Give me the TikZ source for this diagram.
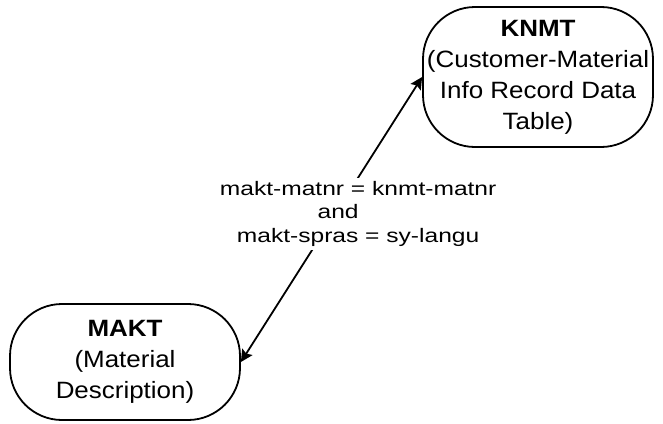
\documentclass[tikz,border=0pt]{standalone}
\usepackage{fontspec}
\setmainfont{Liberation Sans}
\newfontfamily\tablefont[FakeStretch=1.1]{Liberation Sans}
\newfontfamily\joinfont[FakeStretch=1.26]{Liberation Sans}
\usetikzlibrary{arrows.meta}
\begin{document}
\begin{tikzpicture}[x=0.5pt,y=-0.5pt,
			table/.style={draw,line width=0.9pt,rounded corners=26pt,align=center,
				inner sep=0pt,minimum width=115pt,
				font=\tablefont\fontsize{11.8pt}{15.5pt}\selectfont},
			link/.style={<->,>={Stealth[length=6pt,width=6pt,inset=1pt]},line width=0.9pt},
			joinlabel/.style={fill=white,align=center,inner sep=2pt,pos=0.52,xshift=11.5pt,
				font=\joinfont\fontsize{9.75pt}{11.6pt}\selectfont},]
\useasboundingbox (0,0) rectangle (663,423);
\node[table,minimum height=70pt] (knmt) at (538,77)
	{{\bfseries KNMT}\\(Customer-Material\\Info Record Data\\Table)};
\node[table,minimum height=58pt] (makt) at (125,362)
	{{\bfseries MAKT}\\(Material\\Description)};
\draw[link] (makt.east) -- node[joinlabel] {makt-matnr = knmt-matnr\\and\hspace{20pt}\mbox{}\\makt-spras = sy-langu} (knmt.west);
\end{tikzpicture}
\end{document}
